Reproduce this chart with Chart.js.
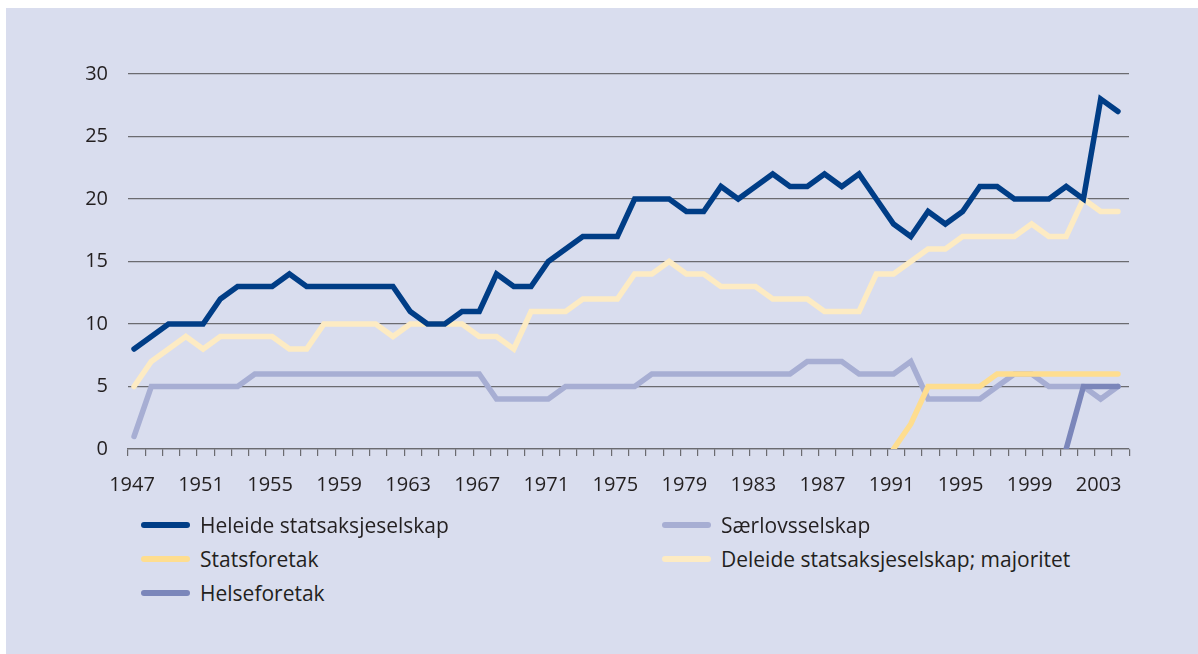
<!DOCTYPE html>
<html>
<head>
<meta charset="utf-8">
<script src="https://cdn.jsdelivr.net/npm/chart.js@4/dist/chart.umd.min.js"></script>
<style>
  body { margin: 0; background: #ffffff; }
  #box {
    position: absolute; left: 6px; top: 8px; width: 1192px; height: 646px;
    background: #d9ddee; font-family: "Open Sans", sans-serif; color: #231f20;
  }
  #myChart { position: absolute; left: 0; top: 0; }
  .legendItem { position: absolute; font-size: 21px; line-height: 26px; white-space: nowrap; }
  .legendItem span.swatch {
    position: absolute; left: 0; top: 10px; width: 49px; height: 6px; border-radius: 3px;
  }
  .legendItem span.label { position: absolute; left: 59px; top: 0; }
</style>
</head>
<body>
<div id="box">
  <canvas id="myChart" width="1192" height="510"></canvas>
  <div id="legend"></div>
</div>
<script>
const years = [];
for (let y = 1947; y <= 2004; y++) years.push(y);

const heleide = [8, 9, 10, 10, 10, 12, 13, 13, 13, 14,
  13, 13, 13, 13, 13, 13, 11, 10, 10, 11,
  11, 14, 13, 13, 15, 16, 17, 17, 17, 20,
  20, 20, 19, 19, 21, 20, 21, 22, 21, 21,
  22, 21, 22, 20, 18, 17, 19, 18, 19, 21,
  21, 20, 20, 20, 21, 20, 28, 27];

const saerlov = [1, 5, 5, 5, 5, 5, 5, 6, 6, 6,
  6, 6, 6, 6, 6, 6, 6, 6, 6, 6,
  6, 4, 4, 4, 4, 5, 5, 5, 5, 5,
  6, 6, 6, 6, 6, 6, 6, 6, 6, 7,
  7, 7, 6, 6, 6, 7, 4, 4, 4, 4,
  5, 6, 6, 5, 5, 5, 4, 5];

const deleide = [5, 7, 8, 9, 8, 9, 9, 9, 9, 8,
  8, 10, 10, 10, 10, 9, 10, 10, 10, 10,
  9, 9, 8, 11, 11, 11, 12, 12, 12, 14,
  14, 15, 14, 14, 13, 13, 13, 12, 12, 12,
  11, 11, 11, 14, 14, 15, 16, 16, 17, 17,
  17, 17, 18, 17, 17, 20, 19, 19];

// Statsforetak from 1991, Helseforetak from 2001
const statsforetakYears = [1991, 1992, 1993, 1994, 1995, 1996, 1997, 1998, 1999, 2000, 2001, 2002, 2003, 2004];
const statsforetak = [0, 2, 5, 5, 5, 5, 6, 6, 6, 6, 6, 6, 6, 6];
const helseforetakYears = [2001, 2002, 2003, 2004];
const helseforetak = [0, 5, 5, 5];

const yTicks = [0, 5, 10, 15, 20, 25, 30];

function toPoints(xs, ys) {
  return xs.map((x, i) => ({ x: x, y: ys[i] }));
}

const series = [
  { label: "Heleide statsaksjeselskap", data: toPoints(years, heleide), color: "#003d86", order: 1 },
  { label: "Særlovsselskap", data: toPoints(years, saerlov), color: "#a7aed3", order: 5 },
  { label: "Statsforetak", data: toPoints(statsforetakYears, statsforetak), color: "#fedd8f", order: 2 },
  { label: "Deleide statsaksjeselskap; majoritet", data: toPoints(years, deleide), color: "#fdebc3", order: 4 },
  { label: "Helseforetak", data: toPoints(helseforetakYears, helseforetak), color: "#7b86ba", order: 3 }
];

const xMin = 1946.65;
const xMax = 2004.64;

new Chart("myChart", {
  type: "line",
  data: {
    datasets: series.map(s => ({
      label: s.label,
      data: s.data,
      borderColor: s.color,
      backgroundColor: s.color,
      borderWidth: 5.5,
      borderCapStyle: "round",
      pointRadius: 0,
      tension: 0,
      fill: false,
      order: s.order
    }))
  },
  options: {
    responsive: false,
    animation: false,
    layout: { padding: { top: 66, right: 69, bottom: 9, left: 0 } },
    plugins: { legend: { display: false }, tooltip: { enabled: false } },
    scales: {
      x: {
        type: "linear",
        min: xMin,
        max: xMax,
        afterBuildTicks: function (scale) {
          const t = [];
          for (let k = 0; k <= 58; k++) t.push({ value: xMin + k });
          scale.ticks = t;
        },
        afterFit: function (scale) { scale.height = 60; },
        border: { display: true, color: "#6b6b70", width: 1.3 },
        grid: { drawOnChartArea: false, drawTicks: true, tickLength: 7, color: "#6b6b70", lineWidth: 1.2 },
        ticks: {
          autoSkip: false,
          maxRotation: 0,
          padding: 17,
          labelOffset: 4,
          color: "#231f20",
          font: { family: "Open Sans", size: 20 },
          callback: function (value, index) {
            const yr = years[index];
            if (yr === undefined) return "";
            return (yr - 1947) % 4 === 0 ? String(yr) : "";
          }
        }
      },
      y: {
        min: 0,
        max: 30,
        afterBuildTicks: function (scale) {
          scale.ticks = yTicks.map(v => ({ value: v }));
        },
        afterFit: function (scale) { scale.width = 122; },
        border: { display: false },
        grid: { drawTicks: false, color: "#6b6b70", lineWidth: 1.3 },
        ticks: {
          padding: 20,
          color: "#231f20",
          font: { family: "Open Sans", size: 20 }
        }
      }
    }
  }
});

// legend in two columns, same order as the datasets
const legendPos = [
  { left: 135, top: 504 }, { left: 656, top: 504 },
  { left: 135, top: 538 }, { left: 656, top: 538 },
  { left: 135, top: 572 }
];
const legendDiv = document.getElementById("legend");
series.forEach((s, i) => {
  const item = document.createElement("div");
  item.className = "legendItem";
  item.style.left = legendPos[i].left + "px";
  item.style.top = legendPos[i].top + "px";
  item.innerHTML = '<span class="swatch" style="background:' + s.color + '"></span><span class="label">' + s.label + '</span>';
  legendDiv.appendChild(item);
});
</script>
</body>
</html>
